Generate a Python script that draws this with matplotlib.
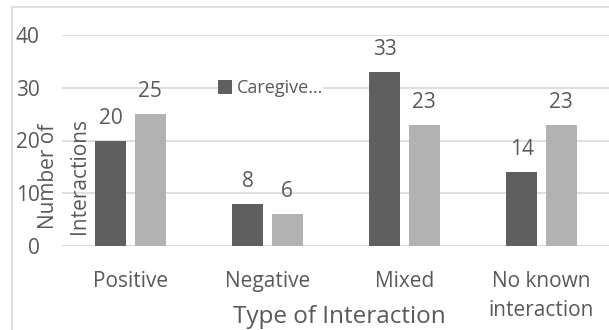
import matplotlib
matplotlib.use("Agg")
import matplotlib.pyplot as plt
from matplotlib.patches import Patch, Rectangle
import numpy as np

categories = ["Positive", "Negative", "Mixed", "No known\ninteraction"]
caregiver = [20, 8, 33, 14]
second_series = [25, 6, 23, 23]
legend_label = "Caregive\u2026"
y_ticks = [0, 10, 20, 30, 40]

DARK = "#5f5f5f"
LIGHT = "#b2b2b2"
TEXT = "#595959"
GRID = "#d9d9d9"

plt.rcParams["font.family"] = ["Open Sans", "DejaVu Sans"]

W, H = 609, 330
fig = plt.figure(figsize=(W / 100, H / 100), dpi=100)

def fx(px):
    return px / W

def fy(py):
    return 1 - py / H

# chart frame
fig.patches.append(Rectangle((fx(12), fy(335)), fx(610), fy(7) - fy(335),
                             transform=fig.transFigure, fill=False,
                             edgecolor=GRID, linewidth=1.2, zorder=0))

ax = fig.add_axes([fx(62), fy(246), fx(610) - fx(62), fy(35) - fy(246)])
x = np.arange(len(categories))
bw = 0.226
off = 0.144
b1 = ax.bar(x - off, caregiver, bw, color=DARK, zorder=3)
b2 = ax.bar(x + off, second_series, bw, color=LIGHT, zorder=3)

for bars, vals in ((b1, caregiver), (b2, second_series)):
    for rect, v in zip(bars, vals):
        ax.annotate(f"{v}", (rect.get_x() + rect.get_width() / 2, v),
                    xytext=(0, 17), textcoords="offset pixels",
                    ha="center", va="baseline", fontsize=15, color=TEXT)

ax.set_xlim(-0.5, 3.5)
ax.set_ylim(0, 40)
ax.set_yticks(y_ticks)
ax.yaxis.grid(True, color=GRID, linewidth=1.2, zorder=0)
ax.set_axisbelow(True)
for s in ax.spines.values():
    s.set_visible(False)
ax.tick_params(axis="both", length=0, colors=TEXT, labelsize=15)
ax.tick_params(axis="y", pad=16)
ax.tick_params(axis="x", pad=18)
ax.set_xticks(x)
ax.set_xticklabels(categories, linespacing=1.48)

# axis titles
fig.text(fx(54), fy(176), "Number of", rotation=90, rotation_mode="anchor",
         ha="center", va="baseline", fontsize=15, color=TEXT)
fig.text(fx(85), fy(176), "Interactions", rotation=90, rotation_mode="anchor",
         ha="center", va="baseline", fontsize=15, color=TEXT)
fig.text(fx(339), fy(323), "Type of Interaction", ha="center", va="baseline",
         fontsize=17.5, color=TEXT)

leg = ax.legend(handles=[Patch(facecolor=DARK, edgecolor="none")], labels=[legend_label],
                loc="center left", bbox_to_anchor=(fx(218), fy(88)),
                bbox_transform=fig.transFigure, frameon=True, fancybox=False,
                facecolor="white", edgecolor="none", framealpha=1,
                borderpad=0.0, borderaxespad=0.0, handlelength=0.78, handleheight=0.78,
                handletextpad=0.25, fontsize=13, labelcolor=TEXT)

fig.savefig("out.png", dpi=100)
